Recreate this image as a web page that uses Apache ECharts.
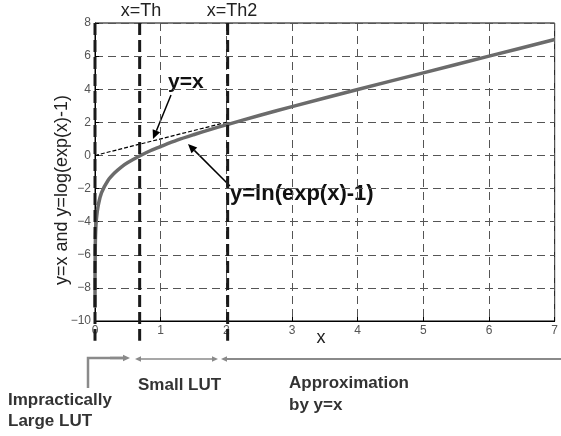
<!DOCTYPE html>
<html>
<head>
<meta charset="utf-8">
<script src="https://cdn.jsdelivr.net/npm/echarts@6/dist/echarts.min.js"></script>
<style>
  html, body { margin: 0; padding: 0; background: #fff; }
  #chart { width: 561px; height: 436px; }
</style>
</head>
<body>
<div id="chart"></div>
<script>
// y = ln(exp(x)-1)
const curveX = [0.0001, 0.0005, 0.001, 0.005, 0.01, 0.02, 0.05, 0.1, 0.2, 0.3, 0.4, 0.5, 0.7, 0.85, 1, 1.25, 1.5, 1.75, 2, 2.5, 3, 4, 5, 6, 7];
const curveY = [-9.2, -7.6, -6.9, -5.3, -4.6, -3.9, -3.0, -2.25, -1.5, -1.05, -0.7, -0.43, 0.01, 0.3, 0.54, 0.92, 1.25, 1.56, 1.85, 2.41, 2.95, 3.98, 4.99, 6.0, 7.0];
// y = x helper line
const lineX = [0, 2];
const lineY = [0, 2];
// thick dashed markers: x=0, x=Th, x=Th2
const thX = [0, 0.68, 2.02];
const thTop = 8;
const thBottom = -11.2;
// axis ticks
const xTicks = [0, 1, 2, 3, 4, 5, 6, 7];
const yTicks = [-10, -8, -6, -4, -2, 0, 2, 4, 6, 8];

const FONT = 'Liberation Sans, Arial, sans-serif';
const chart = echarts.init(document.getElementById('chart'));

function arrow(x1, y1, x2, y2, color, w, size) {
  // line with a filled head at (x2,y2)
  const a = Math.atan2(y2 - y1, x2 - x1);
  const bx = x2 - size * Math.cos(a), by = y2 - size * Math.sin(a);
  const px = Math.sin(a) * size * 0.45, py = -Math.cos(a) * size * 0.45;
  return [
    { type: 'line', shape: { x1: x1, y1: y1, x2: bx, y2: by }, style: { stroke: color, lineWidth: w } },
    { type: 'polygon', shape: { points: [[x2, y2], [bx + px, by + py], [bx - px, by - py]] }, style: { fill: color } }
  ];
}

function txt(x, y, s, size, weight, align, color) {
  return {
    type: 'text', x: x, y: y,
    style: { text: s, font: weight + ' ' + size + 'px ' + FONT, fill: color || '#222', align: align || 'left', verticalAlign: 'middle' }
  };
}

const gray = '#8a8a8a';
let graphics = [
  txt(141, 11, 'x=Th', 18, 'normal', 'center'),
  txt(232, 11, 'x=Th2', 18, 'normal', 'center'),
  txt(321, 338, 'x', 18, 'normal', 'center'),
  Object.assign(txt(62, 190, 'y=x and y=log(exp(x)-1)', 18, 'normal', 'center'), { rotation: Math.PI / 2 }),
  txt(168, 82, 'y=x', 21, 'bold', 'left', '#111'),
  txt(230, 194, 'y=ln(exp(x)-1)', 22, 'bold', 'left', '#111'),
  txt(138, 385, 'Small LUT', 17, 'bold', 'left', '#333'),
  txt(289, 383, 'Approximation', 17, 'bold', 'left', '#333'),
  txt(289, 405, 'by y=x', 17, 'bold', 'left', '#333'),
  txt(8, 400, 'Impractically', 17, 'bold', 'left', '#333'),
  txt(8, 421, 'Large LUT', 17, 'bold', 'left', '#333'),
  { type: 'polyline', shape: { points: [[88, 388], [88, 358], [124, 358]] }, style: { stroke: gray, lineWidth: 2.5, fill: null } }
];
graphics = graphics.concat(
  arrow(171, 95, 153, 139, '#000', 1.5, 9),
  arrow(230, 186, 188, 144, '#000', 1.5, 9),
  arrow(110, 358, 130, 358, gray, 2.5, 7),
  arrow(176, 359, 135, 359, gray, 1.5, 6),
  arrow(176, 359, 218, 359, gray, 1.5, 6),
  arrow(561, 359, 221, 359, gray, 2, 6)
);

const curveData = curveX.map((x, i) => [x, curveY[i]]);
const lineData = lineX.map((x, i) => [x, lineY[i]]);

const thSeries = thX.map(x => ({
  type: 'line',
  data: [[x, thTop], [x, thBottom]],
  clip: false,
  symbol: 'none',
  silent: true,
  z: 5,
  lineStyle: { color: '#1a1a1a', width: 3, type: [12, 5] }
}));

const option = {
  animation: false,
  backgroundColor: '#fff',
  grid: { left: 95, right: 1, top: 23, bottom: 115, show: true, borderColor: '#000', borderWidth: 1 },
  xAxis: {
    type: 'value', min: 0, max: 7, interval: 1,
    axisLine: { show: true, onZero: false, lineStyle: { color: '#000', width: 1 } },
    axisTick: { show: true, inside: true, length: 4, lineStyle: { color: '#000' } },
    axisLabel: { color: '#555', fontSize: 12, fontFamily: FONT, margin: 4, formatter: v => xTicks.includes(v) ? String(v) : '' },
    splitLine: { show: true, lineStyle: { color: '#555', width: 1, type: [8, 5] } }
  },
  yAxis: {
    type: 'value', min: -10, max: 8, interval: 2,
    axisLine: { show: true, onZero: false, lineStyle: { color: '#000', width: 1 } },
    axisTick: { show: true, inside: true, length: 4, lineStyle: { color: '#000' } },
    axisLabel: { color: '#555', fontSize: 12, fontFamily: FONT, margin: 4, formatter: v => yTicks.includes(v) ? (v < 0 ? '\u2212' + (-v) : String(v)) : '' },
    splitLine: { show: true, lineStyle: { color: '#555', width: 1, type: [8, 5] } }
  },
  series: [
    {
      type: 'line', data: lineData, symbol: 'none', silent: true, z: 3,
      lineStyle: { color: '#000', width: 1.2, type: [4, 2] }
    },
    {
      type: 'line', data: curveData, symbol: 'none', smooth: 0.3, silent: true, z: 4,
      lineStyle: { color: '#6b6b6b', width: 3.5 }
    }
  ].concat(thSeries),
  graphic: graphics
};

chart.setOption(option);
</script>
</body>
</html>
